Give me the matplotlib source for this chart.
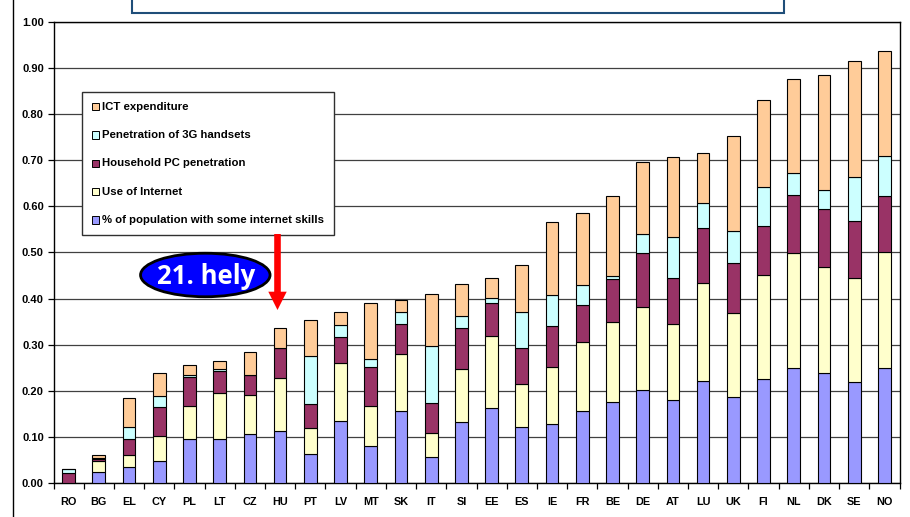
import matplotlib
matplotlib.use("Agg")
import matplotlib.pyplot as plt
from matplotlib.patches import Rectangle, Ellipse, Polygon
import numpy as np

categories = ["RO", "BG", "EL", "CY", "PL", "LT", "CZ", "HU", "PT", "LV", "MT", "SK", "IT", "SI",
              "EE", "ES", "IE", "FR", "BE", "DE", "AT", "LU", "UK", "FI", "NL", "DK", "SE", "NO"]

skills = [0.000, 0.024, 0.036, 0.048, 0.095, 0.097, 0.106, 0.113, 0.064, 0.134, 0.080, 0.156, 0.058, 0.132,
          0.163, 0.122, 0.129, 0.156, 0.176, 0.203, 0.180, 0.222, 0.187, 0.226, 0.249, 0.239, 0.219, 0.249]
internet = [0.000, 0.025, 0.026, 0.055, 0.072, 0.098, 0.086, 0.115, 0.055, 0.127, 0.088, 0.123, 0.051, 0.115,
            0.157, 0.093, 0.123, 0.149, 0.173, 0.179, 0.166, 0.212, 0.182, 0.225, 0.250, 0.229, 0.225, 0.251]
pc = [0.023, 0.004, 0.035, 0.063, 0.064, 0.048, 0.042, 0.065, 0.052, 0.055, 0.084, 0.067, 0.064, 0.089,
      0.071, 0.077, 0.088, 0.081, 0.094, 0.117, 0.099, 0.119, 0.109, 0.106, 0.126, 0.125, 0.125, 0.123]
g3 = [0.009, 0.002, 0.024, 0.024, 0.003, 0.004, 0.000, 0.000, 0.104, 0.026, 0.018, 0.025, 0.124, 0.027,
      0.010, 0.078, 0.067, 0.044, 0.006, 0.041, 0.089, 0.055, 0.068, 0.084, 0.046, 0.043, 0.095, 0.086]
ict = [0.000, 0.006, 0.063, 0.049, 0.022, 0.017, 0.051, 0.044, 0.078, 0.030, 0.121, 0.025, 0.112, 0.068,
       0.044, 0.102, 0.159, 0.156, 0.174, 0.156, 0.173, 0.107, 0.205, 0.189, 0.205, 0.249, 0.251, 0.228]

series_names = ["% of population with some internet skills", "Use of Internet",
                "Household PC penetration", "Penetration of 3G handsets", "ICT expenditure"]
series_colors = ["#9999FF", "#FFFFCC", "#993366", "#CCFFFF", "#FFCC99"]
yticks = [0.0, 0.1, 0.2, 0.3, 0.4, 0.5, 0.6, 0.7, 0.8, 0.9, 1.0]
badge_text = "21. hely"

W, H = 910, 517
fig = plt.figure(figsize=(W / 100, H / 100), dpi=100)
fig.patch.set_facecolor("white")

def fx(x):
    return x / W

def fy(y):
    return 1 - y / H

ax_l, ax_r, ax_t, ax_b = 53.5, 899.5, 21.5, 483.3
ax = fig.add_axes([fx(ax_l), fy(ax_b), (ax_r - ax_l) / W, (ax_b - ax_t) / H])

font = "Liberation Sans"
x = np.arange(len(categories))
bottom = np.zeros(len(categories))
all_series = [skills, internet, pc, g3, ict]
for vals, col, name in zip(all_series, series_colors, series_names):
    v = np.array(vals)
    ax.bar(x, v, width=0.42, bottom=bottom, color=col, edgecolor="black", linewidth=0.8,
           label=name, zorder=3)
    bottom += v

ax.set_xlim(-0.5, len(categories) - 0.5)
ax.set_ylim(0, 1.0)
ax.set_yticks(yticks)
ax.set_yticklabels([f"{t:.2f}" for t in yticks], fontfamily=font, fontweight="bold", fontsize=8)
ax.yaxis.grid(True, color="#404040", linewidth=0.9, zorder=0)
ax.set_axisbelow(True)

ax.set_xticks(x)
ax.set_xticklabels(categories, fontfamily=font, fontweight="bold", fontsize=7.8)
ax.set_xticks(np.arange(-0.5, len(categories)), minor=True)
ax.tick_params(axis="x", which="major", length=0, pad=10)
ax.tick_params(axis="x", which="minor", length=4, width=0.9, direction="out")
ax.tick_params(axis="y", which="major", length=4, width=0.9, direction="out", pad=3)

for s in ax.spines.values():
    s.set_color("black")
    s.set_linewidth(1.0)

# Legend (manual, reversed order as in original)
leg_l, leg_r, leg_t, leg_b = 81.7, 334.0, 91.7, 235.0
fig.patches.append(Rectangle((fx(leg_l), fy(leg_b)), (leg_r - leg_l) / W, (leg_b - leg_t) / H,
                             transform=fig.transFigure, facecolor="white", edgecolor="#303030",
                             linewidth=1.0, zorder=5))
entry_y = [106.7, 135.0, 163.3, 191.7, 220.0]
for yy, name, col in zip(entry_y, series_names[::-1], series_colors[::-1]):
    sq = 7.3
    fig.patches.append(Rectangle((fx(91.7), fy(yy + sq / 2)), sq / W, sq / H,
                                 transform=fig.transFigure, facecolor=col, edgecolor="black",
                                 linewidth=0.7, zorder=6))
    fig.text(fx(101.7), fy(yy), name, fontfamily=font, fontweight="bold", fontsize=8.2,
             va="center", ha="left", zorder=7)

# Badge ellipse
fig.patches.append(Ellipse((fx(205.3), fy(275.0)), 129.5 / W, 43.5 / H, transform=fig.transFigure,
                           facecolor="#0000FF", edgecolor="black", linewidth=2.0, zorder=8))
fig.text(fx(206), fy(277), badge_text, fontfamily="Open Sans", fontweight="bold", fontsize=18.5,
         color="white", ha="center", va="center", zorder=9)

# Red arrow
cx = 277.5
pts = [(cx - 3.3, 234), (cx + 3.3, 234), (cx + 3.3, 291.7), (cx + 9.2, 291.7), (cx, 310),
       (cx - 9.2, 291.7), (cx - 3.3, 291.7)]
fig.patches.append(Polygon([(fx(a), fy(b)) for a, b in pts], closed=True, transform=fig.transFigure,
                           facecolor="#FF0000", edgecolor="none", zorder=8))

# Top title box (cropped)
fig.patches.append(Rectangle((fx(131.7), fy(12.7)), (784 - 131.7) / W, 20 / H, transform=fig.transFigure,
                             facecolor="white", edgecolor="#1F4E79", linewidth=1.5, zorder=4))

# Outer chart frame left line
fig.lines.append(plt.Line2D([fx(13.3), fx(13.3)], [0, 1], transform=fig.transFigure,
                            color="black", linewidth=1.0))

fig.savefig("out.png", dpi=100, facecolor="white")
